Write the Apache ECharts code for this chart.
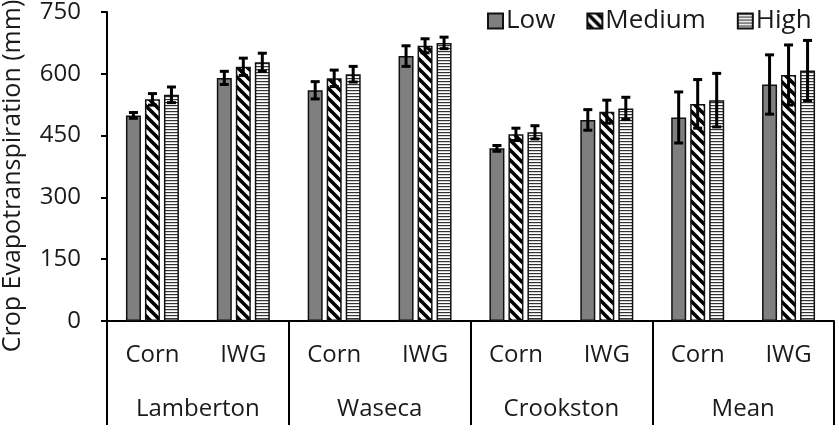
<!DOCTYPE html>
<html lang="en">
<head>
	<meta charset="UTF-8">
	<title>Crop ET</title>
	<script src="https://cdn.jsdelivr.net/npm/echarts@6/dist/echarts.min.js"></script>
	<style>
		html,body{margin:0;width:100%;height:100%;background:#fff;}
		#chart{width:839px;height:432px;}
	</style>
</head>
<body>
	<div id="chart"></div>
<script>
	// categories
	var crops = ['Corn', 'IWG', 'Corn', 'IWG', 'Corn', 'IWG', 'Corn', 'IWG'];
	var sites = ['Lamberton', 'Waseca', 'Crookston', 'Mean'];
	var levels = ['Low', 'Medium', 'High'];

	// crop ET (mm) per crop/site
	var lowVals    = [499, 590, 560, 643, 419, 488, 494, 574];
	var mediumVals = [538, 617, 589, 668, 453, 508, 527, 597];
	var highVals   = [549, 628, 599, 675, 458, 516, 536, 608];

	// error bar half-widths (mm)
	var lowErr    = [7, 16, 21, 25, 7, 25, 62, 72];
	var mediumErr = [14, 21, 20, 17, 15, 28, 59, 73];
	var highErr   = [19, 22, 19, 14, 16, 27, 65, 73];

	var yTicks = [0, 150, 300, 450, 600, 750];
	var yTitle = 'Crop Evapotranspiration (mm)';

	var FONT = 'Open Sans';
	var BAR_W = 15, BAR_GAP = 4;

	function makeDiag () {
		var c = document.createElement('canvas');
		c.width = 10; c.height = 10;
		var ctx = c.getContext('2d');
		ctx.fillStyle = '#fff';
		ctx.fillRect(0, 0, 10, 10);
		ctx.strokeStyle = '#000';
		ctx.lineWidth = 3.6;
		for (var k = -10; k <= 10; k += 10) {
			ctx.beginPath();
			ctx.moveTo(-2, -2 + k);
			ctx.lineTo(12, 12 + k);
			ctx.stroke();
		}
		return c;
	}

	function makeHoriz () {
		var c = document.createElement('canvas');
		c.width = 4; c.height = 3;
		var ctx = c.getContext('2d');
		ctx.fillStyle = '#fff';
		ctx.fillRect(0, 0, 4, 3);
		ctx.fillStyle = '#333';
		ctx.fillRect(0, 0, 4, 1.2);
		return c;
	}

	var fills = [
		'#7f7f7f',
		{ image: makeDiag(), repeat: 'repeat' },
		{ image: makeHoriz(), repeat: 'repeat' }
	];
	var values = [lowVals, mediumVals, highVals];
	var errors = [lowErr, mediumErr, highErr];

	var seriesArr = [];
	for (var i = 0; i < levels.length; i++) {
		seriesArr.push({
			name: levels[i],
			type: 'bar',
			xAxisIndex: 0,
			barWidth: BAR_W,
			barGap: (BAR_GAP / BAR_W * 100) + '%',
			itemStyle: { color: fills[i], borderColor: '#111', borderWidth: 1.5 },
			emphasis: { disabled: true },
			data: values[i],
			z: 2
		});
	}

	// error bars drawn on top of each bar
	for (var i = 0; i < levels.length; i++) {
		(function (idx) {
			var errData = [];
			for (var j = 0; j < crops.length; j++) {
				errData.push([j, values[idx][j] - errors[idx][j], values[idx][j] + errors[idx][j]]);
			}
			seriesArr.push({
				type: 'custom',
				xAxisIndex: 0,
				silent: true,
				z: 5,
				data: errData,
				encode: { x: 0, y: [1, 2] },
				renderItem: function (params, api) {
					var off = (idx - 1) * (BAR_W + BAR_GAP);
					var lo = api.coord([api.value(0), api.value(1)]);
					var hi = api.coord([api.value(0), api.value(2)]);
					var x = lo[0] + off;
					var cap = 4.5;
					var st = { stroke: '#000', lineWidth: 3 };
					return {
						type: 'group',
						children: [
							{ type: 'line', shape: { x1: x, y1: lo[1], x2: x, y2: hi[1] }, style: st },
							{ type: 'line', shape: { x1: x - cap, y1: lo[1], x2: x + cap, y2: lo[1] }, style: st },
							{ type: 'line', shape: { x1: x - cap, y1: hi[1], x2: x + cap, y2: hi[1] }, style: st }
						]
					};
				}
			});
		})(i);
	}

	var myChart = echarts.init(document.getElementById('chart'), null, { renderer: 'canvas' });
	var options = {
		animation: false,
		textStyle: { fontFamily: FONT },
		legend: {
			data: levels,
			left: 482,
			top: 3,
			icon: 'rect',
			itemWidth: 15,
			itemHeight: 15,
			itemGap: 31,
			textStyle: { fontFamily: FONT, fontSize: 26, color: '#1a1a1a', padding: [0, 0, 0, -2] }
		},
		// y axis title, placed by hand so it sits where the original does
		graphic: [{
			type: 'text',
			x: 13,
			y: 176,
			rotation: Math.PI / 2,
			style: {
				text: yTitle,
				fontFamily: FONT,
				fontSize: 25,
				fill: '#1a1a1a',
				align: 'center',
				verticalAlign: 'middle'
			}
		}],
		grid: {
			left: 107,
			right: 5,
			top: 12,
			bottom: 111,
			outerBoundsMode: 'none',
			containLabel: false
		},
		xAxis: [{
			type: 'category',
			data: crops,
			position: 'bottom',
			offset: 0,
			axisLine: { lineStyle: { color: '#000', width: 2 } },
			axisTick: { show: false },
			axisLabel: { interval: 0, margin: 22, fontFamily: FONT, fontSize: 24, color: '#1a1a1a' },
			splitLine: { show: false }
		}, {
			type: 'category',
			data: sites,
			position: 'bottom',
			offset: 0,
			gridIndex: 0,
			axisLine: { show: false },
			axisTick: { show: true, interval: 0, length: 104, lineStyle: { color: '#000', width: 2 } },
			axisLabel: { interval: 0, margin: 76, fontFamily: FONT, fontSize: 24, color: '#1a1a1a' },
			splitLine: { show: false }
		}],
		yAxis: {
			type: 'value',
			min: yTicks[0],
			max: yTicks[yTicks.length - 1],
			interval: yTicks[1] - yTicks[0],
			axisLine: { show: true, lineStyle: { color: '#000', width: 2 } },
			axisTick: { show: true, length: 6, lineStyle: { color: '#000', width: 2 } },
			axisLabel: { margin: 26, fontFamily: FONT, fontSize: 24, color: '#1a1a1a' },
			splitLine: { show: false }
		},
		series: seriesArr
	};
	myChart.setOption(options);
</script>
</body>
</html>
